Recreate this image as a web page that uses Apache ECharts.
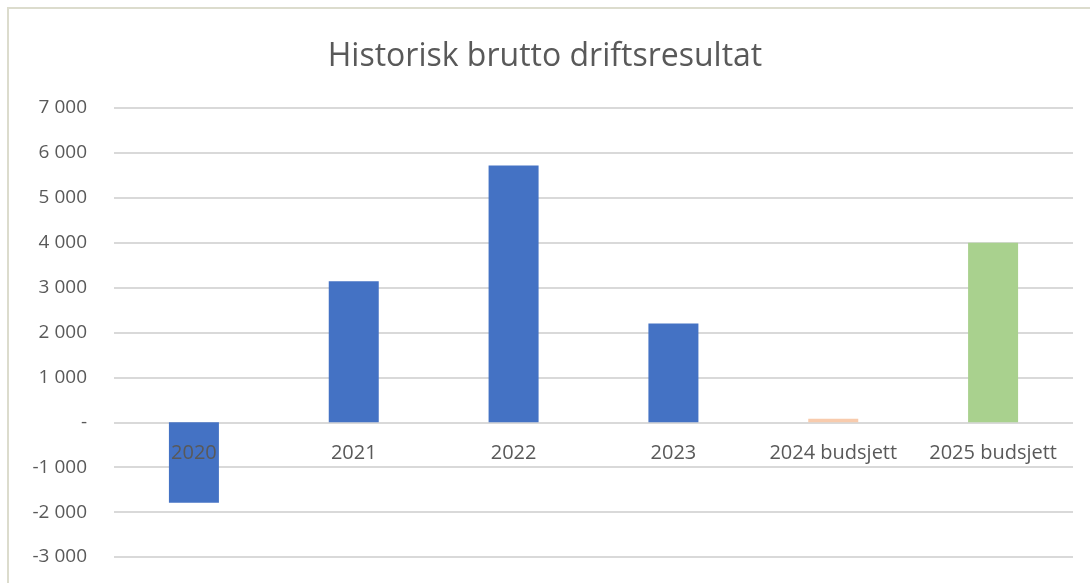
<!DOCTYPE html>
<html>
<head>
<meta charset="utf-8">
<script src="https://cdn.jsdelivr.net/npm/echarts@6/dist/echarts.min.js"></script>
<style>
  html, body { margin: 0; padding: 0; background: #fff; overflow: hidden; }
  #frame {
    position: absolute; left: 7px; top: 7px; width: 1090px; height: 583px;
    border-left: 2px solid #dcdccd; border-top: 2px solid #dcdccd;
  }
  #chart { position: absolute; left: 0; top: 0; width: 1090px; height: 583px; }
</style>
</head>
<body>
<div id="frame"></div>
<div id="chart"></div>
<script>
const categories = ['2020', '2021', '2022', '2023', '2024 budsjett', '2025 budsjett']
const values = [-1790, 3140, 5720, 2200, 80, 4000]
const barColors = ['#4472c4', '#4472c4', '#4472c4', '#4472c4', '#f8cbad', '#a9d18e']

const chart = echarts.init(document.getElementById('chart'))

function fmt(v) {
  if (v === 0) return '-'
  const s = Math.abs(v).toString().replace(/\B(?=(\d{3})+(?!\d))/g, ' ')
  return (v < 0 ? '-' : '') + s
}

chart.setOption({
  animation: false,
  title: {
    text: 'Historisk brutto driftsresultat',
    left: 'center',
    top: 36,
    textStyle: {
      fontFamily: 'Open Sans',
      fontWeight: 'normal',
      fontSize: 32,
      color: '#595959'
    }
  },
  grid: {
    left: 114,
    right: 17,
    top: 108,
    bottom: 26,
    outerBoundsMode: 'none'
  },
  xAxis: {
    type: 'category',
    data: categories,
    z: 10,
    position: 'bottom',
    // labels sit just under the zero line, like the original
    offset: -135,
    axisLine: { show: false, onZero: false },
    axisTick: { show: false },
    axisLabel: {
      interval: 0,
      hideOverlap: false,
      margin: 21,
      fontFamily: 'Open Sans',
      fontSize: 20,
      color: '#595959'
    }
  },
  yAxis: {
    type: 'value',
    min: -3000,
    max: 7000,
    interval: 1000,
    axisLine: { show: false },
    axisTick: { show: false },
    axisLabel: {
      margin: 27,
      fontFamily: 'Open Sans',
      fontSize: 19,
      color: '#595959',
      formatter: fmt
    },
    splitLine: { lineStyle: { color: '#d9d9d9', width: 2 } }
  },
  series: [{
    type: 'bar',
    barWidth: 50,
    data: values.map((v, i) => ({ value: v, itemStyle: { color: barColors[i] } }))
  }]
})
</script>
</body>
</html>
